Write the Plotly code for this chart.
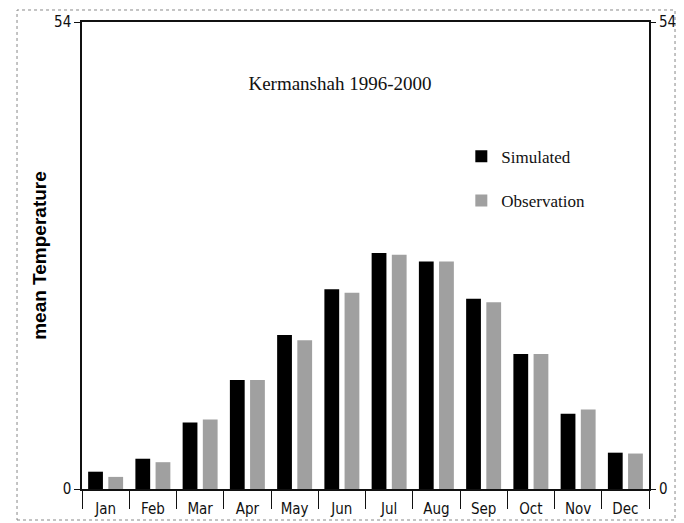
import plotly.graph_objects as go

months = ["Jan", "Feb", "Mar", "Apr", "May", "Jun", "Jul", "Aug", "Sep", "Oct", "Nov", "Dec"]
simulated = [2.0, 3.5, 7.7, 12.6, 17.8, 23.1, 27.3, 26.3, 22.0, 15.6, 8.7, 4.2]
observation = [1.4, 3.1, 8.05, 12.6, 17.2, 22.7, 27.1, 26.3, 21.6, 15.6, 9.2, 4.1]
y_ticks = [0, 54]

narrow = "Liberation Sans Narrow, Arial Narrow, DejaVu Sans Condensed, sans-serif"
serif = "Liberation Serif, Times New Roman, serif"

fig = go.Figure()
fig.add_trace(go.Bar(x=months, y=simulated, name="Simulated",
                     marker=dict(color="#000000", line=dict(width=0)),
                     legendgroup="a"))
fig.add_trace(go.Bar(x=months, y=observation, name="Observation",
                     marker=dict(color="#a0a0a0", line=dict(width=0)),
                     legendgroup="b"))
# carrier for the right-hand axis labels
fig.add_trace(go.Scatter(x=[months[0]], y=[0], yaxis="y2", mode="markers",
                         marker=dict(opacity=0), showlegend=False, hoverinfo="skip"))

fig.update_layout(
    width=684, height=523,
    margin=dict(l=74, r=43, t=14, b=42),
    paper_bgcolor="white", plot_bgcolor="white",
    barmode="group", bargap=0.146, bargroupgap=0.267,
    title=dict(text="Kermanshah 1996-2000", x=0.455, xref="paper", xanchor="center",
               y=0.869, yref="paper", yanchor="middle",
               font=dict(family=serif, size=19, color="#111")),
    legend=dict(x=0.669, xanchor="left", y=0.75, yanchor="top",
                font=dict(family=serif, size=17, color="#111"),
                bgcolor="rgba(0,0,0,0)", tracegroupgap=19, traceorder="grouped"),
    xaxis=dict(type="category", range=[-0.5, 11.5], showgrid=False, automargin=False,
               showline=True, linecolor="#111", linewidth=1.5, mirror=True,
               ticks="outside", tickson="boundaries", ticklen=18, tickcolor="#111",
               tickwidth=1.2, ticklabelstandoff=5,
               tickfont=dict(family=narrow, size=15, color="#111")),
    yaxis=dict(range=[0, 54], tickvals=y_ticks, showgrid=False, zeroline=False,
               automargin=False,
               showline=True, linecolor="#111", linewidth=1.5, mirror=True,
               ticks="outside", ticklen=6, tickcolor="#111",
               tickfont=dict(family=narrow, size=15, color="#111"),
               title=dict(text="<b>mean Temperature</b>", standoff=2,
                          font=dict(family="Liberation Sans, Arial, sans-serif", size=19, color="#000"))),
    yaxis2=dict(range=[0, 54], tickvals=y_ticks, overlaying="y", side="right",
                automargin=False,
                showgrid=False, zeroline=False, showline=False,
                ticks="outside", ticklen=6, tickcolor="#111",
                tickfont=dict(family=narrow, size=15, color="#111")),
    showlegend=True,
)

fig.add_shape(type="rect", xref="paper", yref="paper",
              x0=-0.1146, x1=1.0459, y0=-0.0664, y1=1.0257,
              line=dict(color="#888", width=1, dash="dot"), layer="below")

fig.write_html("out.html")
